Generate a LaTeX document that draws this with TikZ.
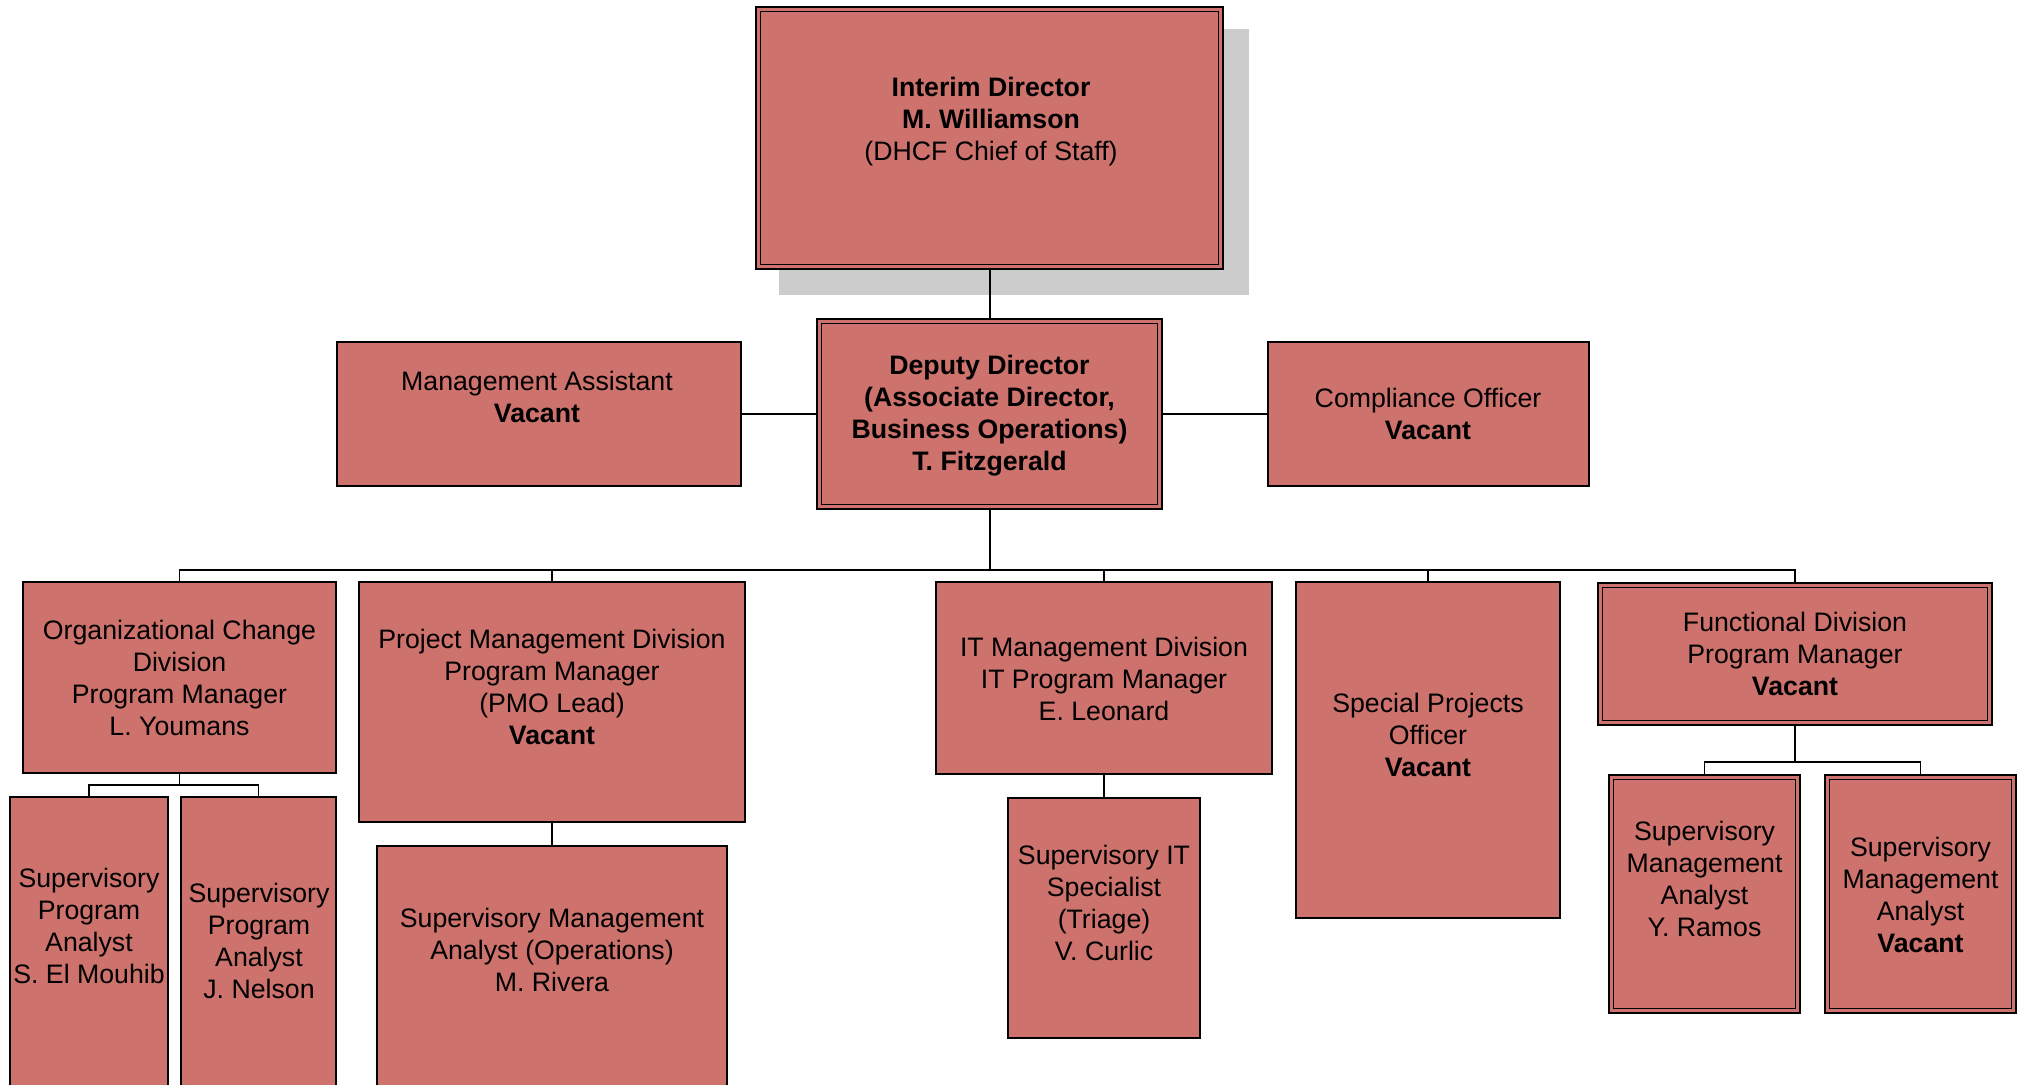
\documentclass[tikz,border=0pt]{standalone}
\usepackage{fontspec}
\setmainfont{Liberation Sans}
\definecolor{boxfill}{RGB}{205,114,108}
\definecolor{shadowgray}{RGB}{204,204,204}
\begin{document}
\begin{tikzpicture}[x=0.5pt,y=-0.5pt,
  box/.style={draw=black, line width=0.65pt, fill=boxfill, inner sep=0pt},
  dbox/.style={box, line width=0.8pt, double=boxfill, double distance=1.6pt},
  txt/.style={font=\fontsize{13.35}{16}\selectfont, align=center, inner sep=0pt},
  conn/.style={draw=black, line width=0.65pt},
  trunk/.style={draw=black, line width=1pt}]
\useasboundingbox (0,0) rectangle (2027,1085);
\clip (0,0) rectangle (2027,1085);
% shadow
\fill[shadowgray] (779,29) rectangle (1249,295);
% boxes
\node[dbox, minimum width=231.3pt, minimum height=128.8pt] (dir) at (989.5,138) {};
\node[dbox, minimum width=170.3pt, minimum height=92.8pt] (dep) at (989.5,414) {};
\node[box, minimum width=202pt, minimum height=72pt] (ma) at (539,414) {};
\node[box, minimum width=160.5pt, minimum height=72pt] (co) at (1428.5,414) {};
\node[box, minimum width=156.5pt, minimum height=95.5pt] (org) at (179.5,677.5) {};
\node[box, minimum width=79pt, minimum height=151.5pt] (spa1) at (89,948.5) {};
\node[box, minimum width=77.5pt, minimum height=151.5pt] (spa2) at (258.5,948.5) {};
\node[box, minimum width=193pt, minimum height=120pt] (pmd) at (552,702) {};
\node[box, minimum width=175pt, minimum height=127pt] (smaop) at (552,973) {};
\node[box, minimum width=168pt, minimum height=96pt] (itm) at (1104,678) {};
\node[box, minimum width=96pt, minimum height=120pt] (itsp) at (1104,918) {};
\node[box, minimum width=132pt, minimum height=168pt] (spo) at (1428,750) {};
\node[dbox, minimum width=194.8pt, minimum height=68.8pt] (fd) at (1795,654) {};
\node[dbox, minimum width=93.3pt, minimum height=116.8pt] (sma1) at (1704.5,894) {};
\node[dbox, minimum width=93.3pt, minimum height=116.8pt] (sma2) at (1920.5,894) {};
% connector coordinates
\coordinate (bus) at (989.5,570);
\coordinate (orgbus) at (179.5,785);
\coordinate (fdbus) at (1795,762);
% connectors
\draw[trunk] (dir.south) -- (dep.north);
\draw[conn] (ma.east) -- (dep.west);
\draw[conn] (dep.east) -- (co.west);
\draw[trunk] (dep.south) -- (bus);
\draw[conn] (org.north) |- (bus) -| (fd.north);
\draw[conn] (pmd.north) -- (pmd.north |- bus);
\draw[conn] (itm.north) -- (itm.north |- bus);
\draw[conn] (spo.north) -- (spo.north |- bus);
\draw[conn] (org.south) -- (orgbus);
\draw[conn] (spa1.north) |- (orgbus) -| (spa2.north);
\draw[conn] (pmd.south) -- (smaop.north);
\draw[conn] (itm.south) -- (itsp.north);
\draw[conn] (fd.south) -- (fdbus);
\draw[conn] (sma1.north) |- (fdbus) -| (sma2.north);
% texts
\node[txt] (tdir) at (991,122) {\textbf{Interim Director}\\\textbf{M. Williamson}\\(DHCF Chief of Staff)};
\node[txt] (tdep) at (989.5,416) {\textbf{Deputy Director}\\\textbf{(Associate Director,}\\\textbf{Business Operations)}\\\textbf{T. Fitzgerald}};
\node[txt] (tma) at (537,397) {Management Assistant\\\textbf{Vacant}};
\node[txt] (tco) at (1428,414) {Compliance Officer\\\textbf{Vacant}};
\node[txt] (torg) at (179.5,678) {Organizational Change\\Division\\Program Manager\\L. Youmans};
\node[txt] (tspa1) at (89,926) {Supervisory\\Program\\Analyst\\S. El Mouhib};
\node[txt] (tspa2) at (259,941) {Supervisory\\Program\\Analyst\\J. Nelson};
\node[txt] (tpmd) at (552,687) {Project Management Division\\Program Manager\\(PMO Lead)\\\textbf{Vacant}};
\node[txt] (tsmaop) at (552,950) {Supervisory Management\\Analyst (Operations)\\M. Rivera};
\node[txt] (titm) at (1104,678.5) {IT Management Division\\IT Program Manager\\E. Leonard};
\node[txt] (titsp) at (1104,903) {Supervisory IT\\Specialist\\(Triage)\\V. Curlic};
\node[txt] (tspo) at (1428,735) {Special Projects\\Officer\\\textbf{Vacant}};
\node[txt] (tfd) at (1795,654) {Functional Division\\Program Manager\\\textbf{Vacant}};
\node[txt] (tsma1) at (1704.5,878.5) {Supervisory\\Management\\Analyst\\Y. Ramos};
\node[txt] (tsma2) at (1920.5,894.5) {Supervisory\\Management\\Analyst\\\textbf{Vacant}};
\end{tikzpicture}
\end{document}
